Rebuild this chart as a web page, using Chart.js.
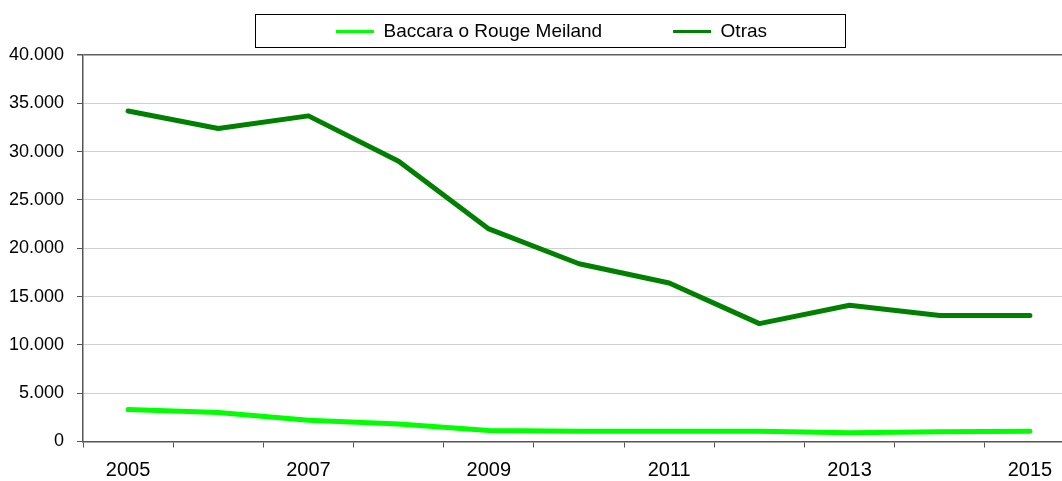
<!DOCTYPE html>
<html lang="es">
  <head>
    <meta charset="UTF-8" />
    <title>Baccara o Rouge Meiland / Otras</title>
    <script src="https://cdn.jsdelivr.net/npm/chart.js@4/dist/chart.umd.min.js"></script>
    <style>
      html, body { margin: 0; padding: 0; background: #fff; overflow: hidden; }
      /* el área de trazado se sale un poco por la derecha, como en el original */
      .wrap { width: 1076px; height: 481px; }
    </style>
  </head>
  <body>
    <div class="wrap">
      <canvas id="myChart"></canvas>
    </div>

    <script>
      // años
      const years = ['2005', '2006', '2007', '2008', '2009', '2010',
                     '2011', '2012', '2013', '2014', '2015'];

      // series
      const baccara = [3300, 3000, 2200, 1800, 1150, 1050, 1050, 1050, 900, 1000, 1050];
      const otras   = [34200, 32400, 33700, 29000, 22000, 18400, 16400, 12200, 14100, 13050, 13050];

      const seriesNames = ['Baccara o Rouge Meiland', 'Otras'];
      const seriesColors = ['#00ff00', '#008000'];

      // eje y
      const yMax = 40000;
      const yStep = 5000;

      // miles con punto: 40000 -> 40.000
      const fmt = (v) => String(v).replace(/\B(?=(\d{3})+(?!\d))/g, '.');

      // la leyenda va un poco a la derecha y arriba, y lleva marco
      const legendFrame = {
        id: 'legendFrame',
        afterLayout(chart) {
          const lg = chart.legend;
          if (!lg) return;
          lg.left += 12;
          lg.right += 12;
          lg.top -= 4;
          lg.bottom -= 4;
        },
        afterDraw(chart) {
          const boxes = chart.legend && chart.legend.legendHitBoxes;
          if (!boxes || !boxes.length) return;
          const first = boxes[0];
          const last = boxes[boxes.length - 1];
          const x0 = Math.round(first.left - 81);
          const x1 = Math.round(last.left + last.width + 78);
          const ctx = chart.ctx;
          ctx.save();
          ctx.strokeStyle = '#000';
          ctx.lineWidth = 1;
          ctx.strokeRect(x0 + 0.5, 14.5, x1 - x0, 33);
          ctx.restore();
        }
      };

      const data = {
        labels: years,
        datasets: [{
          label: seriesNames[0],
          data: baccara,
          borderColor: seriesColors[0],
          backgroundColor: seriesColors[0],
        }, {
          label: seriesNames[1],
          data: otras,
          borderColor: seriesColors[1],
          backgroundColor: seriesColors[1],
        }]
      };

      const config = {
        type: 'line',
        data: data,
        options: {
          responsive: true,
          maintainAspectRatio: false,
          animation: false,
          // padding negativo: la leyenda usa un padding grande para separar las entradas
          layout: {
            padding: { top: -53, left: 4, right: 1, bottom: -11.5 }
          },
          elements: {
            line: {
              borderWidth: 5,
              tension: 0,
              fill: false,
              borderCapStyle: 'round',
              borderJoinStyle: 'round'
            },
            point: { radius: 0, hoverRadius: 0 }
          },
          scales: {
            x: {
              offset: true,
              grid: {
                offset: true,
                drawOnChartArea: false,
                drawTicks: true,
                tickLength: 6,
                tickColor: '#555'
              },
              border: { color: '#555', width: 1.5 },
              ticks: {
                autoSkip: false,
                maxRotation: 0,
                padding: 10.5,
                color: '#000',
                font: { family: 'Liberation Sans', size: 20 },
                // sólo un año de cada dos
                callback: function (value, index) {
                  return index % 2 === 0 ? this.getLabelForValue(value) : '';
                }
              }
            },
            y: {
              min: 0,
              max: yMax,
              afterFit: (scale) => {
                scale.width = 79;
                scale.paddingTop = 55;
              },
              grid: {
                color: (c) => (c.tick && c.tick.value === yMax ? '#606060' : '#d0d0d0'),
                lineWidth: (c) => (c.tick && c.tick.value === yMax ? 1.5 : 1),
                tickLength: 6,
                tickColor: '#555'
              },
              border: { color: '#555', width: 1.5 },
              ticks: {
                stepSize: yStep,
                padding: 13,
                color: '#000',
                font: { family: 'Liberation Sans', size: 18 },
                callback: (v) => fmt(v)
              }
            }
          },
          plugins: {
            tooltip: { enabled: false },
            legend: {
              position: 'top',
              labels: {
                boxWidth: 38,
                boxHeight: 3,
                padding: 71,
                color: '#000',
                font: { family: 'Liberation Sans', size: 19 },
                generateLabels: (chart) =>
                  Chart.defaults.plugins.legend.labels.generateLabels(chart).map((l) => ({
                    ...l, lineWidth: 0, fillStyle: l.strokeStyle
                  }))
              }
            }
          }
        },
        plugins: [legendFrame]
      };

      const myChart = new Chart(document.getElementById('myChart'), config);
    </script>
  </body>
</html>
